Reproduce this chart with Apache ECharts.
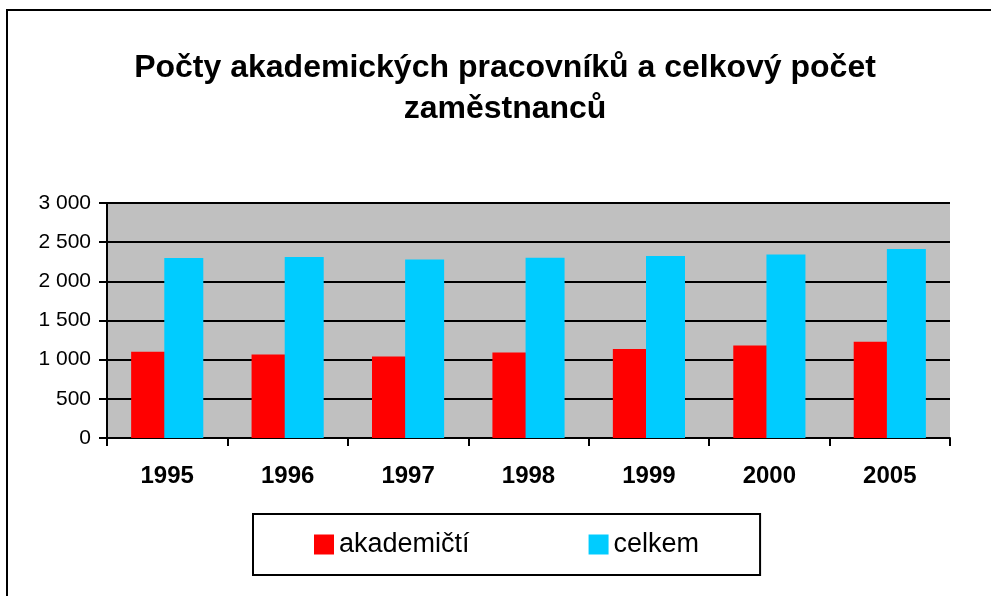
<!DOCTYPE html>
<html>
<head>
<meta charset="utf-8">
<script src="https://cdn.jsdelivr.net/npm/echarts@6/dist/echarts.min.js"></script>
<style>
  html, body { margin: 0; padding: 0; background: #fff; }
  #chart { width: 991px; height: 596px; }
</style>
</head>
<body>
<div id="chart"></div>
<script>
const years = ['1995', '1996', '1997', '1998', '1999', '2000', '2005']
const akademicti = [1100, 1065, 1040, 1090, 1135, 1180, 1230]
const celkem = [2298, 2311, 2280, 2302, 2323, 2344, 2413]
const yTicks = { min: 0, max: 3000, interval: 500 }

const FONT = '"Liberation Sans", Arial, sans-serif'

function fmtThousands(v) {
  return String(v).replace(/\B(?=(\d{3})+(?!\d))/g, ' ')
}

const chart = echarts.init(document.getElementById('chart'))

chart.setOption({
  animation: false,
  backgroundColor: '#fff',
  textStyle: { fontFamily: FONT },
  title: {
    text: 'Počty akademických pracovníků a celkový počet\nzaměstnanců',
    // centre point of the title, a bit right of the canvas middle
    left: 505,
    textAlign: 'center',
    top: 48,
    padding: 0,
    textStyle: {
      fontFamily: FONT,
      fontSize: 32,
      fontWeight: 'bold',
      color: '#000',
      lineHeight: 41,
    },
  },
  graphic: [
    {
      type: 'rect',
      shape: { x: 7, y: 10, width: 1100, height: 1000 },
      style: { fill: 'none', stroke: '#000', lineWidth: 2 },
      silent: true,
    },
  ],
  legend: {
    left: 253,
    top: 514,
    padding: [17, 61],
    itemWidth: 20,
    itemHeight: 20,
    itemGap: 119,
    borderColor: '#000',
    borderWidth: 2,
    icon: 'rect',
    textStyle: { fontFamily: FONT, fontSize: 27, color: '#000' },
    data: ['akademičtí', 'celkem'],
  },
  grid: {
    left: 107,
    right: 41,
    top: 203,
    bottom: 158,
    show: true,
    backgroundColor: '#c0c0c0',
    borderWidth: 0,
  },
  xAxis: {
    type: 'category',
    data: years,
    axisLine: { lineStyle: { color: '#000', width: 2 } },
    axisTick: { show: true, inside: false, length: 8, lineStyle: { color: '#000', width: 2 } },
    axisLabel: {
      margin: 26,
      fontFamily: FONT,
      fontSize: 24,
      fontWeight: 'bold',
      color: '#000',
    },
  },
  yAxis: {
    type: 'value',
    min: yTicks.min,
    max: yTicks.max,
    interval: yTicks.interval,
    axisLine: { show: true, lineStyle: { color: '#000', width: 2 } },
    axisTick: { show: true, length: 8, lineStyle: { color: '#000', width: 2 } },
    splitLine: { show: true, lineStyle: { color: '#000', width: 2 } },
    axisLabel: {
      margin: 16,
      fontFamily: FONT,
      fontSize: 21,
      color: '#000',
      formatter: fmtThousands,
    },
  },
  series: [
    {
      name: 'akademičtí',
      type: 'bar',
      data: akademicti,
      barWidth: 39,
      barGap: '-15%',
      itemStyle: { color: '#ff0000' },
    },
    {
      name: 'celkem',
      type: 'bar',
      data: celkem,
      barWidth: 39,
      barGap: '-15%',
      itemStyle: { color: '#00ccff' },
    },
  ],
})
</script>
</body>
</html>
